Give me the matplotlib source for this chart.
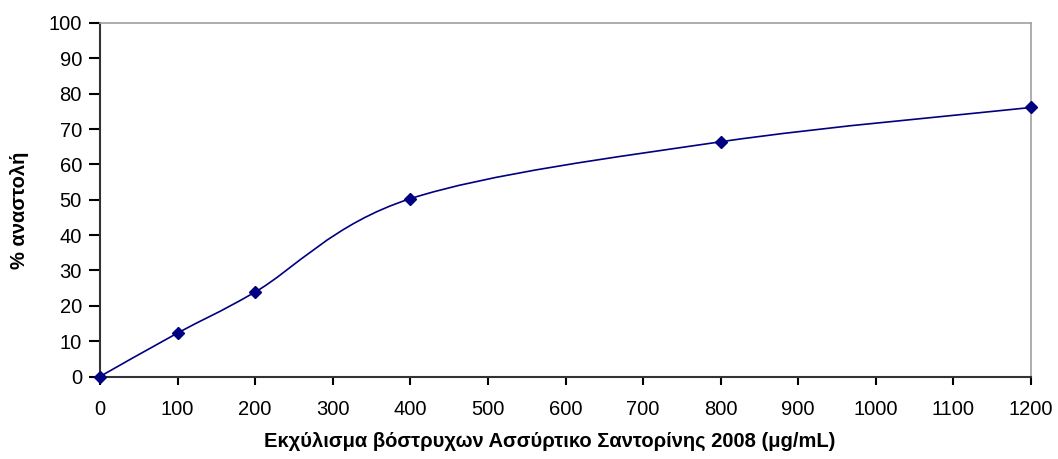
import matplotlib
matplotlib.use("Agg")
import matplotlib.pyplot as plt
from matplotlib.path import Path
from matplotlib.patches import PathPatch
import numpy as np

plt.rcParams['font.family'] = ['Liberation Sans', 'DejaVu Sans']

conc = [0, 100, 200, 400, 800, 1200]
inhibition = [0, 12.3, 23.9, 50.3, 66.4, 76.1]
x_ticks = list(range(0, 1201, 100))
y_ticks = list(range(0, 101, 10))
xlabel = "Εκχύλισμα βόστρυχων Ασσύρτικο Σαντορίνης 2008 (μg/mL)"
ylabel = "% αναστολή"

W, H = 1058, 459
fig = plt.figure(figsize=(W / 100, H / 100), dpi=100)
ax = fig.add_axes([100 / W, (H - 376.5) / H, 931 / W, 353.5 / H])

# Smoothed line (Catmull-Rom as cubic Bezier, like spreadsheet smoothing)
pts = np.column_stack([conc, inhibition]).astype(float)
n = len(pts)
verts = [tuple(pts[0])]
codes = [Path.MOVETO]
for i in range(n - 1):
    p0 = pts[i - 1] if i > 0 else pts[i]
    p1 = pts[i]
    p2 = pts[i + 1]
    p3 = pts[i + 2] if i + 2 < n else pts[i + 1]
    c1 = p1 + (p2 - p0) / 6.0
    c2 = p2 - (p3 - p1) / 6.0
    verts += [tuple(c1), tuple(c2), tuple(p2)]
    codes += [Path.CURVE4] * 3
ax.add_patch(PathPatch(Path(verts, codes), facecolor='none', edgecolor='#000080',
                       lw=1.2, clip_on=False, zorder=3))
ax.plot(conc, inhibition, linestyle='none', marker='D', markersize=6.5,
        color='#000080', clip_on=False, zorder=4)

ax.set_xlim(0, 1200)
ax.set_ylim(0, 100)
ax.set_xticks(x_ticks)
ax.set_yticks(y_ticks)
ax.tick_params(axis='both', labelsize=14.5, colors='black', direction='out', width=1.5)
ax.tick_params(axis='y', length=8, pad=5)
ax.tick_params(axis='x', length=6, pad=11)
for s in ['left', 'bottom']:
    ax.spines[s].set_color('#333333')
    ax.spines[s].set_linewidth(1.5)
for s in ['top', 'right']:
    ax.spines[s].set_color('#a0a0a0')
    ax.spines[s].set_linewidth(1.2)

fig.text(550 / W, 1 - 441 / H, xlabel, ha='center', va='center',
         fontsize=14.5, fontweight='bold')
fig.text(20 / W, 1 - 210 / H, ylabel, ha='center', va='center', rotation=90,
         fontsize=14.5, fontweight='bold')

fig.savefig("out.png", dpi=100, facecolor='white')
